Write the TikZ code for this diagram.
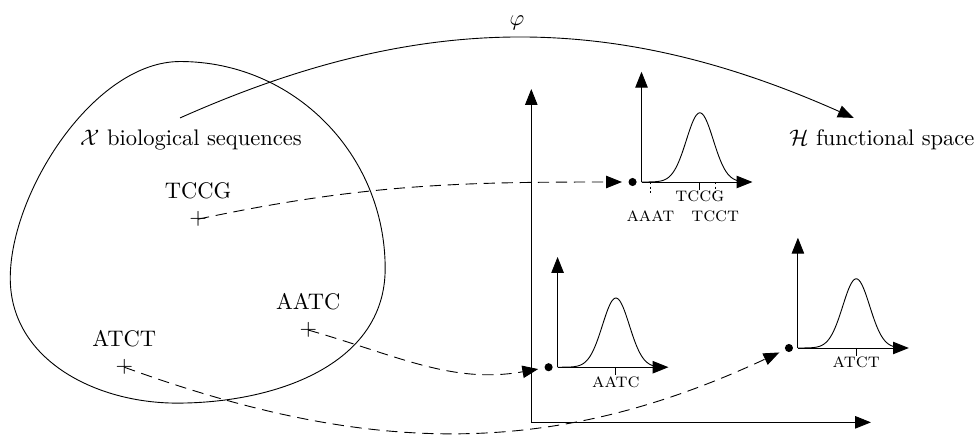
\documentclass[tikz,border=0pt]{standalone}
\usepackage{amsmath, amssymb}
\usepackage{tikz}
\usetikzlibrary{arrows.meta, positioning}

\begin{document}
\begin{tikzpicture}[scale=1.0,
    >={Triangle[length=7pt,width=5.5pt]},
    seqdot/.style={circle, fill, inner sep=0pt, minimum size=3.6pt},
    seqcross/.style={inner sep=0pt},
    maparrow/.style={->, dash pattern=on 5pt off 3pt, shorten >=2.7pt},
    ticklab/.style={font=\small\scshape, inner sep=1pt}]
  \useasboundingbox (0,0) rectangle (15.26,6.79);

  \draw (2.81,5.83) to[out=0,in=90] (6.01,2.60) to[out=-90,in=0] (2.76,0.50)
    to[out=180,in=-90] (0.16,2.45) to[out=90,in=180,looseness=0.8] (2.81,5.83) -- cycle;
  \node (seqs) at (2.98,4.61) {$\mathcal{X}$ biological sequences};
  \node (func) at (13.76,4.61) {$\mathcal{H}$ functional space};

  \coordinate (phistart) at (2.81,4.95);
  \coordinate (phiend) at (13.32,4.95);
  \draw[->] (phistart) to[bend left=24] node[above] (phi) {$\varphi$} (phiend);

  \node[seqcross] (tccgx) at (3.09,3.37) {$+$};
  \node[seqcross] (aatcx) at (4.81,1.64) {$+$};
  \node[seqcross] (atctx) at (1.94,1.06) {$+$};
  \node[above=2pt of tccgx] (tccgl) {TCCG};
  \node[above=2pt of aatcx] (aatcl) {AATC};
  \node[above=2pt of atctx] (atctl) {ATCT};

  \coordinate (bigo) at (8.29,0.20);
  \draw[->] (bigo) -- (8.29,5.40);
  \draw[->] (bigo) -- (13.59,0.20);

  \foreach \nm/\ox/\oy in {tccg/10.01/3.95, aatc/8.70/1.06, atct/12.45/1.36}
  {
    \begin{scope}[shift={(\ox,\oy)}]
      \node[seqdot] (\nm-dot) at (-0.14,0) {};
      \draw[->] (0,0) -- (0,1.72);
      \draw[->] (0,0) -- (1.73,0);
      \draw plot[domain=0:1.6, samples=70, smooth]
        (\x,{1.08*exp(-(\x-0.91)*(\x-0.91)/0.0882)});
      \draw (0.91,0) -- (0.91,-0.12);
      \node[ticklab] (\nm-tick) at (0.91,-0.23) {\nm};
    \end{scope}
  }
  \draw[dash pattern=on 1pt off 1pt] (10.15,3.95) -- (10.15,3.75);
  \draw[dash pattern=on 1pt off 1pt] (11.16,3.95) -- (11.16,3.75);
  \node[ticklab] (aaat) at (10.15,3.41) {aaat};
  \node[ticklab] (tcct) at (11.16,3.41) {tcct};

  \draw[maparrow] (tccgx.center) to[out=12,in=180] (tccg-dot);
  \draw[maparrow] (aatcx.center) to[out=-16,in=190] (aatc-dot);
  \draw[maparrow] (atctx.center) to[out=-20,in=205] (atct-dot);
\end{tikzpicture}
\end{document}
